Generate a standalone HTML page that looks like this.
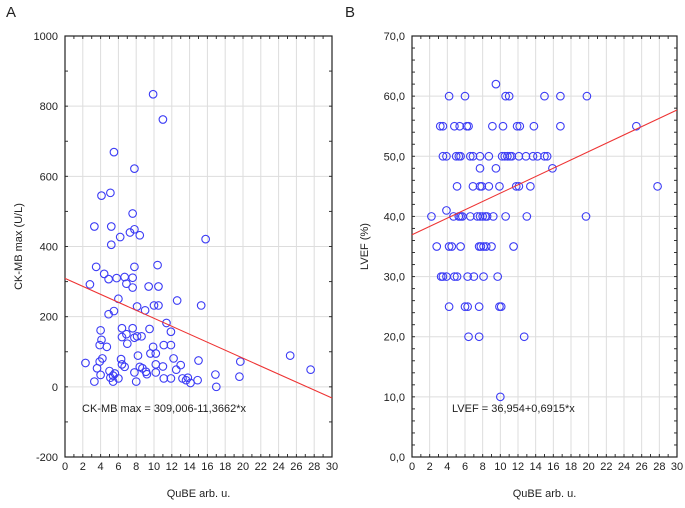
<!DOCTYPE html>
<html><head><meta charset="utf-8"><style>
body{margin:0;background:#fff;width:685px;height:503px;overflow:hidden}
svg text{font-family:"Liberation Sans",sans-serif;fill:#222}
</style></head><body>
<svg id="s" width="685" height="503"></svg>
<script>
// Panel A data
const aX=[9.9,11.0,5.5,7.8,4.1,5.1,7.6,3.3,5.2,7.8,7.3,8.4,6.2,5.2,3.5,7.8,10.4,4.4,4.9,5.8,6.7,7.6,2.8,6.9,7.6,9.4,10.5,6.0,8.1,9.0,10.0,10.5,12.6,5.5,4.9,11.4,11.9,4.0,6.4,7.6,9.5,6.9,4.1,6.4,7.8,8.1,8.6,3.9,4.7,7.0,9.9,11.1,11.9,4.2,3.9,6.3,8.2,9.6,10.2,12.2,15.0,2.3,6.4,3.6,6.7,8.4,10.2,13.0,5.0,7.8,8.7,9.1,11.0,12.5,4.0,5.4,5.6,9.2,10.2,5.1,6.0,11.1,11.9,13.2,13.8,3.3,5.4,8.0,13.6,14.1,14.9,16.9,17.0,19.6,19.7,25.3,27.6,15.3,15.8];
const aY=[834,762,669,622,545,553,494,457,457,449,440,432,427,405,342,342,347,322,307,310,313,311,292,294,283,286,286,251,229,218,232,232,246,216,207,182,157,161,167,167,165,150,134,142,140,144,144,119,114,123,114,119,119,81,72,79,89,95,95,81,75,68,64,53,57,57,64,62,45,41,53,43,58,49,34,32,38,36,41,26,24,24,24,24,26,15,15,15,19,11,19,35,0,29,72,89,49,232,421];
const aXTicks=[0,2,4,6,8,10,12,14,16,18,20,22,24,26,28,30];
const aYTicks=[-200,0,200,400,600,800,1000];
const aFit=[309.006,-11.3662];
// Panel B data
const bX=[9.5,4.2,6.0,10.6,11.0,15.0,16.8,19.8,3.2,3.5,4.8,5.4,6.2,6.4,9.1,10.3,11.9,12.2,13.8,16.8,25.4,3.5,3.9,5.0,5.3,5.5,6.6,6.9,7.7,8.7,10.2,10.5,10.8,11.1,11.3,12.1,12.9,13.7,14.2,15.0,15.3,7.7,9.5,15.9,5.1,6.9,7.7,7.9,8.7,9.9,11.8,12.1,13.4,27.8,3.9,2.2,4.7,5.3,5.5,5.7,6.6,7.4,7.7,8.0,8.3,8.5,9.2,10.6,13.0,19.7,2.8,4.2,4.5,5.5,7.6,7.8,8.1,8.4,9.0,11.5,3.3,3.5,3.9,4.8,5.1,6.3,7.0,8.1,9.7,4.2,6.0,6.3,7.6,9.9,10.1,6.4,7.6,12.7,10.0];
const bY=[62,60,60,60,60,60,60,60,55,55,55,55,55,55,55,55,55,55,55,55,55,50,50,50,50,50,50,50,50,50,50,50,50,50,50,50,50,50,50,50,50,48,48,48,45,45,45,45,45,45,45,45,45,45,41,40,40,40,40,40,40,40,40,40,40,40,40,40,40,40,35,35,35,35,35,35,35,35,35,35,30,30,30,30,30,30,30,30,30,25,25,25,25,25,25,20,20,20,10];
const bXTicks=[0,2,4,6,8,10,12,14,16,18,20,22,24,26,28,30];
const bYTicks=[0,10,20,30,40,50,60,70];
const bYLabels=["0,0","10,0","20,0","30,0","40,0","50,0","60,0","70,0"];
const bFit=[36.954,0.6915];

const NS="http://www.w3.org/2000/svg",S=document.getElementById('s');
function mk(t,a,p){const e=document.createElementNS(NS,t);for(const k in a)e.setAttribute(k,a[k]);(p||S).appendChild(e);return e;}
function panel(o){
  const g=mk('g',{});
  
  
  const sx=v=>o.L+(v-o.x0)/(o.x1-o.x0)*(o.R-o.L), sy=v=>o.B-(v-o.y0)/(o.y1-o.y0)*(o.B-o.T);
  o.xT.forEach(v=>{if(v>o.x0&&v<o.x1){const l=mk('line',{x1:sx(v),x2:sx(v),y1:o.T,y2:o.B,stroke:'#ddd','stroke-width':1},g);}});
  o.yT.forEach(v=>{if(v>o.y0&&v<o.y1){const l=mk('line',{x1:o.L,x2:o.R,y1:sy(v),y2:sy(v),stroke:'#ddd','stroke-width':1},g);}});
  // minor ticks
  for(let v=o.x0;v<=o.x1;v+=1){[[o.B,o.B-3],[o.T,o.T+3]].forEach(p=>mk('line',{x1:sx(v),x2:sx(v),y1:p[0],y2:p[1],stroke:'#333'},g));}
  for(let v=o.y0;v<=o.y1+1e-9;v+=o.ym){[[o.L,o.L+3],[o.R,o.R-3]].forEach(p=>mk('line',{x1:p[0],x2:p[1],y1:sy(v),y2:sy(v),stroke:'#333'},g));}
  const fr=mk('rect',{x:o.L,y:o.T,width:o.R-o.L,height:o.B-o.T,fill:'none',stroke:'#222','stroke-width':1.2},g);
  
  o.xT.forEach(v=>{const t=mk('text',{x:sx(v),y:o.B+13,'font-size':11,'text-anchor':'middle'},g);t.textContent=v;});
  o.yT.forEach((v,i)=>{const t=mk('text',{x:o.L-7,y:sy(v)+4,'font-size':11,'text-anchor':'end'},g);t.textContent=o.yL?o.yL[i]:v;});
  const xa=mk('text',{x:(o.L+o.R)/2,y:497,'font-size':11,'text-anchor':'middle'},g);xa.textContent='QuBE arb. u.';
  
  const cy=(o.T+o.B)/2;
  const ya=mk('text',{x:o.ytx,y:cy,'font-size':11,'text-anchor':'middle',transform:`rotate(-90 ${o.ytx} ${cy})`},g);ya.textContent=o.ytitle;
  
  const pl=mk('text',{x:o.lx,y:17,'font-size':15},g);pl.textContent=o.letter;
  
  o.xs.forEach((x,i)=>{const c=mk('circle',{cx:sx(x),cy:sy(o.ys[i]),r:3.8,fill:'none',stroke:'#3c3cf5','stroke-width':1.1},g);
    });
  const fl=mk('line',{x1:sx(o.x0),y1:sy(o.fit[0]+o.fit[1]*o.x0),x2:sx(o.x1),y2:sy(o.fit[0]+o.fit[1]*o.x1),stroke:'#ee3333','stroke-width':1.1},g);
  
  const eq=mk('text',{x:o.ex,y:412,'font-size':11},g);eq.textContent=o.eq;
  
}
panel({name:'panel-a-ckmb',L:65,R:332,T:36,B:457,x0:0,x1:30,y0:-200,y1:1000,ym:100,xT:aXTicks,yT:aYTicks,xs:aX,ys:aY,fit:aFit,ytitle:'CK-MB max (U/L)',ytx:22,letter:'A',lx:6,ex:82,eq:'CK-MB max = 309,006-11,3662*x'});
panel({name:'panel-b-lvef',L:412,R:677,T:36,B:457,x0:0,x1:30,y0:0,y1:70,ym:2,xT:bXTicks,yT:bYTicks,yL:bYLabels,xs:bX,ys:bY,fit:bFit,ytitle:'LVEF (%)',ytx:368,letter:'B',lx:345,ex:452,eq:'LVEF = 36,954+0,6915*x'});
</script>
</body></html>
